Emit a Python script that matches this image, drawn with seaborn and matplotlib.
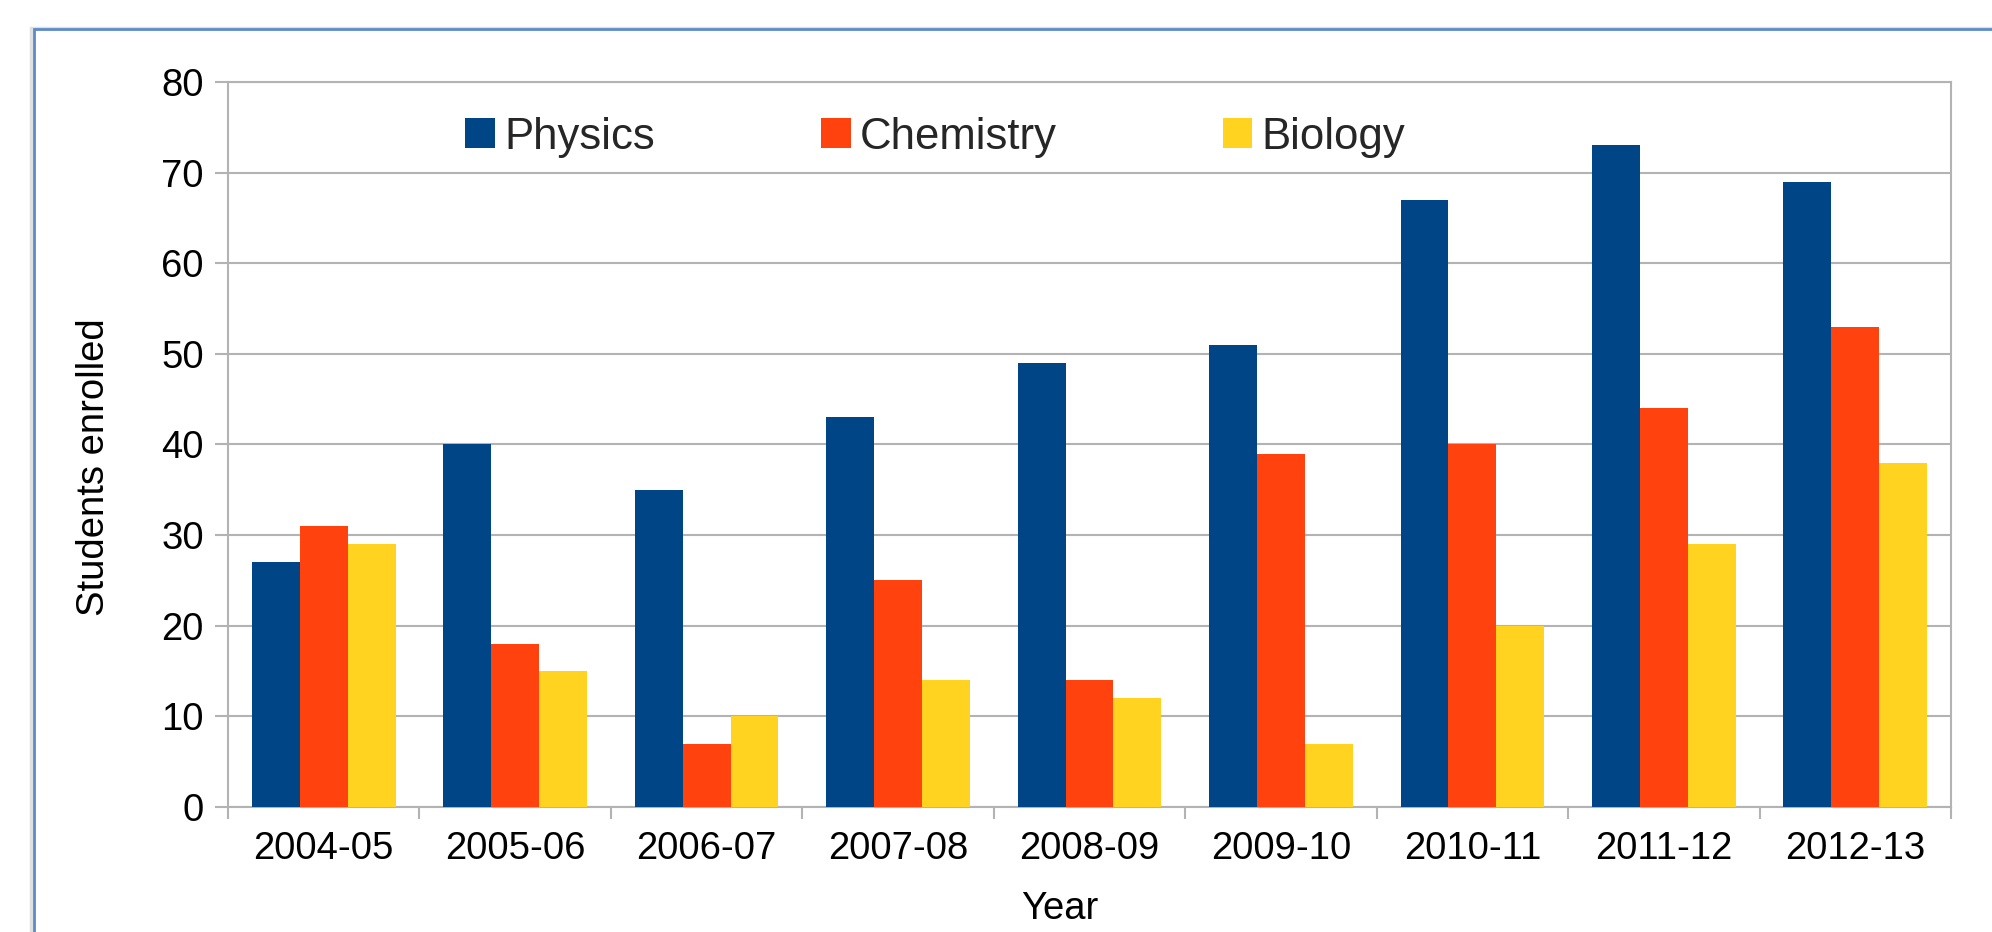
import matplotlib
matplotlib.use("Agg")
import matplotlib.pyplot as plt
import seaborn as sns
import pandas as pd
import numpy as np
from matplotlib.patches import Rectangle

years = ["2004-05", "2005-06", "2006-07", "2007-08", "2008-09",
         "2009-10", "2010-11", "2011-12", "2012-13"]
physics = [27, 40, 35, 43, 49, 51, 67, 73, 69]
chemistry = [31, 18, 7, 25, 14, 39, 40, 44, 53]
biology = [29, 15, 10, 14, 12, 7, 20, 29, 38]
subjects = ["Physics", "Chemistry", "Biology"]
colors = ["#004586", "#ff420e", "#ffd320"]
yticks = [0, 10, 20, 30, 40, 50, 60, 70, 80]

df = pd.DataFrame({
    "Year": years * 3,
    "Students": physics + chemistry + biology,
    "Subject": [s for s in subjects for _ in years],
})

sns.set_theme(style="white")
plt.rcParams["font.family"] = ["Liberation Sans", "DejaVu Sans"]

grid_c = "#b3b3b3"
fig = plt.figure(figsize=(19.92, 9.32), dpi=100)
fig.patch.set_facecolor("white")

# outer frame (blue border, extending beyond right/bottom edges)
fig.patches.append(Rectangle((0.0155, -0.05), 1.1, 0.9695 + 0.05,
                             transform=fig.transFigure, fill=False,
                             edgecolor="#e0e0e0", linewidth=2.5, zorder=0))
fig.patches.append(Rectangle((0.0172, -0.05), 1.1, 0.9690 + 0.05,
                             transform=fig.transFigure, fill=False,
                             edgecolor="#5b8bc9", linewidth=2.0, zorder=1))

ax = fig.add_axes([0.11446, 0.13412, 0.86496, 0.7779])
sns.barplot(data=df, x="Year", y="Students", hue="Subject", hue_order=subjects,
            order=years, palette=colors, saturation=1, width=0.75,
            errorbar=None, ax=ax, zorder=3, linewidth=0)

ax.set_ylim(0, 80)
ax.set_xlim(-0.5, len(years) - 0.5)
ax.set_yticks(yticks)
ax.set_yticklabels([str(v) for v in yticks], fontsize=27.5, color="black")
ax.set_xticks(range(len(years)))
ax.set_xticklabels(years, fontsize=27.5, color="black")
ax.set_xticks(np.arange(-0.5, len(years)), minor=True)

ax.yaxis.grid(True, color=grid_c, linewidth=1.5, zorder=0)
ax.set_axisbelow(True)
for sp in ax.spines.values():
    sp.set_visible(True)
    sp.set_color(grid_c)
    sp.set_linewidth(1.5)

ax.tick_params(axis="y", which="major", length=9.4, width=1.5, color=grid_c,
               direction="out", pad=8, left=True)
ax.tick_params(axis="x", which="major", length=0, pad=17)
ax.tick_params(axis="x", which="minor", length=8.6, width=1.5, color=grid_c,
               direction="out", bottom=True)

ax.set_ylabel("Students enrolled", fontsize=27.5, color="black")
ax.set_xlabel("Year", fontsize=27.5, color="black")
ax.yaxis.set_label_coords(-0.078, 0.469)
ax.xaxis.set_label_coords(0.483, -0.14)
ax.xaxis.label.set_va("center")
ax.yaxis.label.set_va("center")

handles, labels = ax.get_legend_handles_labels()
if ax.get_legend() is not None:
    ax.get_legend().remove()
fig.legend(handles, labels, loc="center", bbox_to_anchor=(0.4695, 0.853),
           ncol=3, frameon=False, fontsize=31.5, handlelength=0.68,
           handleheight=0.68, handletextpad=0.2, columnspacing=3.8,
           borderpad=0.2)

fig.savefig("out.png", dpi=100, facecolor="white")
